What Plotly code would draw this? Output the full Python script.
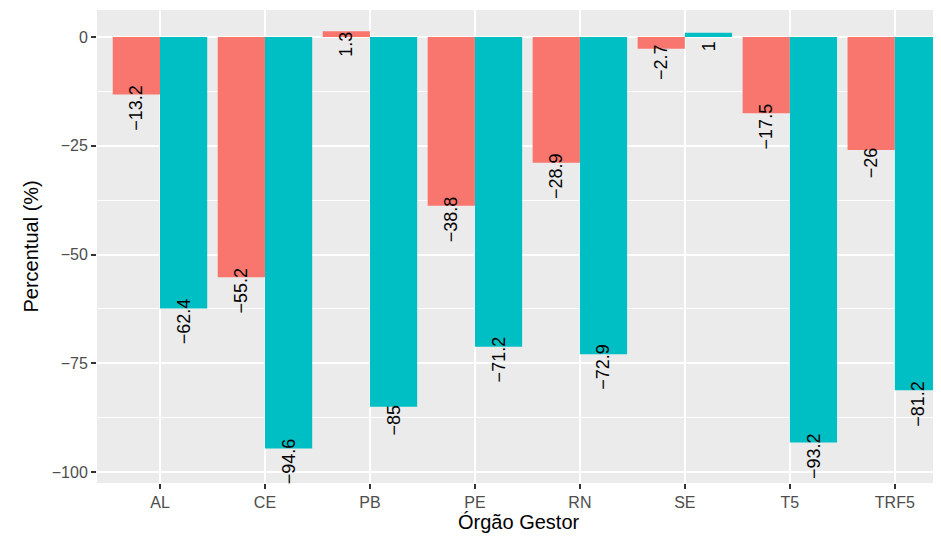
import plotly.graph_objects as go

categories = ["AL", "CE", "PB", "PE", "RN", "SE", "T5", "TRF5"]
serie_a = [-13.2, -55.2, 1.3, -38.8, -28.9, -2.7, -17.5, -26]
serie_b = [-62.4, -94.6, -85, -71.2, -72.9, 1, -93.2, -81.2]
y_ticks = [0, -25, -50, -75, -100]

RED = "#F8766D"
TEAL = "#00BFC4"
FONT = "Liberation Sans, Arial, sans-serif"

# page body has an 8px margin; size figure so the panel lands where the reference has it
W, H = 933, 532
ML, MT, MB, MR = 89, 2, 57, 0
PW, PH = W - ML - MR, H - MT - MB

def fmt(v):
    s = ("%g" % v)
    return s.replace("-", "\u2212")

fig = go.Figure()
fig.add_trace(go.Bar(x=categories, y=serie_a, name="A", marker=dict(color=RED, line=dict(width=0))))
fig.add_trace(go.Bar(x=categories, y=serie_b, name="B", marker=dict(color=TEAL, line=dict(width=0))))

bar_w = 0.45
annotations = []
for i, cat in enumerate(categories):
    for vals, off in ((serie_a, -bar_w / 2), (serie_b, bar_w / 2)):
        v = vals[i]
        annotations.append(dict(
            x=i + off, y=v - 3, xref="x", yref="y",
            text=fmt(v), textangle=-90, showarrow=False,
            xanchor="center", yanchor="middle",
            font=dict(family=FONT, size=18, color="black"),
        ))

# axis titles
annotations.append(dict(
    text="Órgão Gestor", xref="paper", yref="paper", x=0.5, y=-39 / PH,
    xanchor="center", yanchor="middle", showarrow=False,
    font=dict(family=FONT, size=20, color="black"),
))
annotations.append(dict(
    text="Percentual (%)", xref="paper", yref="paper", x=-67 / PW, y=0.5,
    xanchor="center", yanchor="middle", showarrow=False, textangle=-90,
    font=dict(family=FONT, size=20, color="black"),
))

fig.update_layout(
    width=W, height=H,
    margin=dict(l=ML, r=MR, t=MT, b=MB),
    paper_bgcolor="white",
    plot_bgcolor="#EBEBEB",
    barmode="group", bargap=0.1, bargroupgap=0,
    showlegend=False,
    annotations=annotations,
    font=dict(family=FONT),
)
fig.update_xaxes(
    type="category", range=[-0.6, 7.44], automargin=False,
    showgrid=True, gridcolor="white", gridwidth=2,
    ticks="outside", ticklen=5, tickcolor="#333333", tickwidth=1.5,
    tickfont=dict(family=FONT, size=16, color="#4D4D4D"),
    zeroline=False, showline=False,
)
fig.update_yaxes(
    range=[-102.5, 6.2], automargin=False,
    tickvals=y_ticks, ticktext=[fmt(t) for t in y_ticks],
    showgrid=True, gridcolor="white", gridwidth=2,
    minor=dict(tickvals=[-12.5, -37.5, -62.5, -87.5], showgrid=True, gridcolor="white", gridwidth=1, ticks=""),
    ticks="outside", ticklen=5, tickcolor="#333333", tickwidth=1.5,
    tickfont=dict(family=FONT, size=16, color="#4D4D4D"),
    zeroline=False, showline=False,
)

fig.write_html("out.html")
